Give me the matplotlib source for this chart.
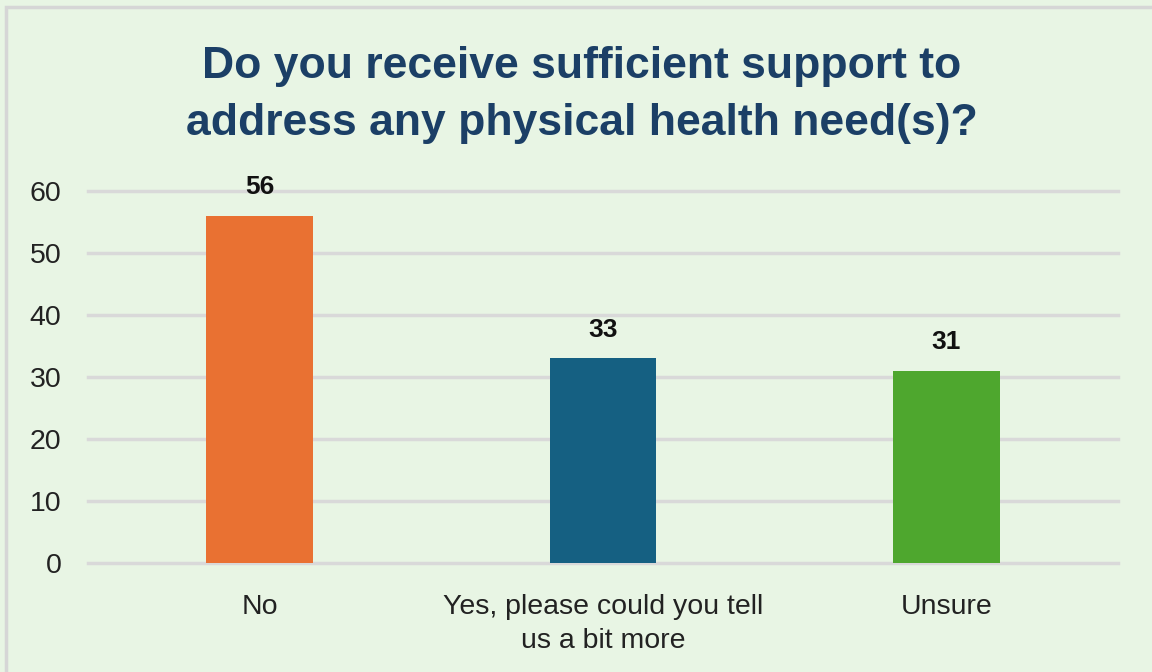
import matplotlib.pyplot as plt
from matplotlib.patches import Rectangle
import numpy as np

plt.rcParams["font.family"] = ["Liberation Sans", "DejaVu Sans"]

categories = ["No", "Yes, please could you tell\nus a bit more", "Unsure"]
counts = [56, 33, 31]
bar_colors = ["#E97132", "#156082", "#4EA72E"]
title = "Do you receive sufficient support to\naddress any physical health need(s)?"

bg = "#E8F5E4"
fig = plt.figure(figsize=(11.52, 6.72), dpi=100)
fig.patch.set_facecolor(bg)

# light grey chart border (cropped at right and bottom in the original)
fig.patches.append(Rectangle((6 / 1152, -0.1), 1.2, 1 - 7 / 672 + 0.1, transform=fig.transFigure,
                             facecolor="none", edgecolor="#D6D6D6", linewidth=2.5, zorder=0))

ax = fig.add_axes([88 / 1152, 1 - 563 / 672, 1030 / 1152, (563 - 191) / 672])
ax.set_facecolor(bg)
x = np.arange(len(categories))
bars = ax.bar(x, counts, width=0.31, color=bar_colors, zorder=3)
for b, v in zip(bars, counts):
    ax.annotate(str(v), (b.get_x() + b.get_width() / 2, v), xytext=(0, 12), textcoords="offset points",
                ha="center", va="bottom", fontsize=19, fontweight="bold", color="#111111",
                annotation_clip=False)

ax.set_xlim(-0.5, 2.5)
ax.set_ylim(0, 60)
ax.set_yticks(range(0, 61, 10))
ax.set_xticks(x)
ax.set_xticklabels(categories, fontsize=20.5, color="#222222", linespacing=1.4)
ax.tick_params(axis="y", labelsize=20.5, labelcolor="#222222", length=0, pad=19)
ax.tick_params(axis="x", length=0, pad=22)
ax.yaxis.grid(True, color="#D9D9D9", linewidth=2.5, zorder=0)
for gl in ax.get_ygridlines():
    gl.set_clip_on(False)
ax.set_axisbelow(True)
for s in ax.spines.values():
    s.set_visible(False)

fig.text(0.505, 1 - 95 / 672, title, ha="center", va="center", fontsize=32, fontweight="bold",
         color="#1B3F66", linespacing=1.48)

fig.savefig("out.png", dpi=100, facecolor=bg)
